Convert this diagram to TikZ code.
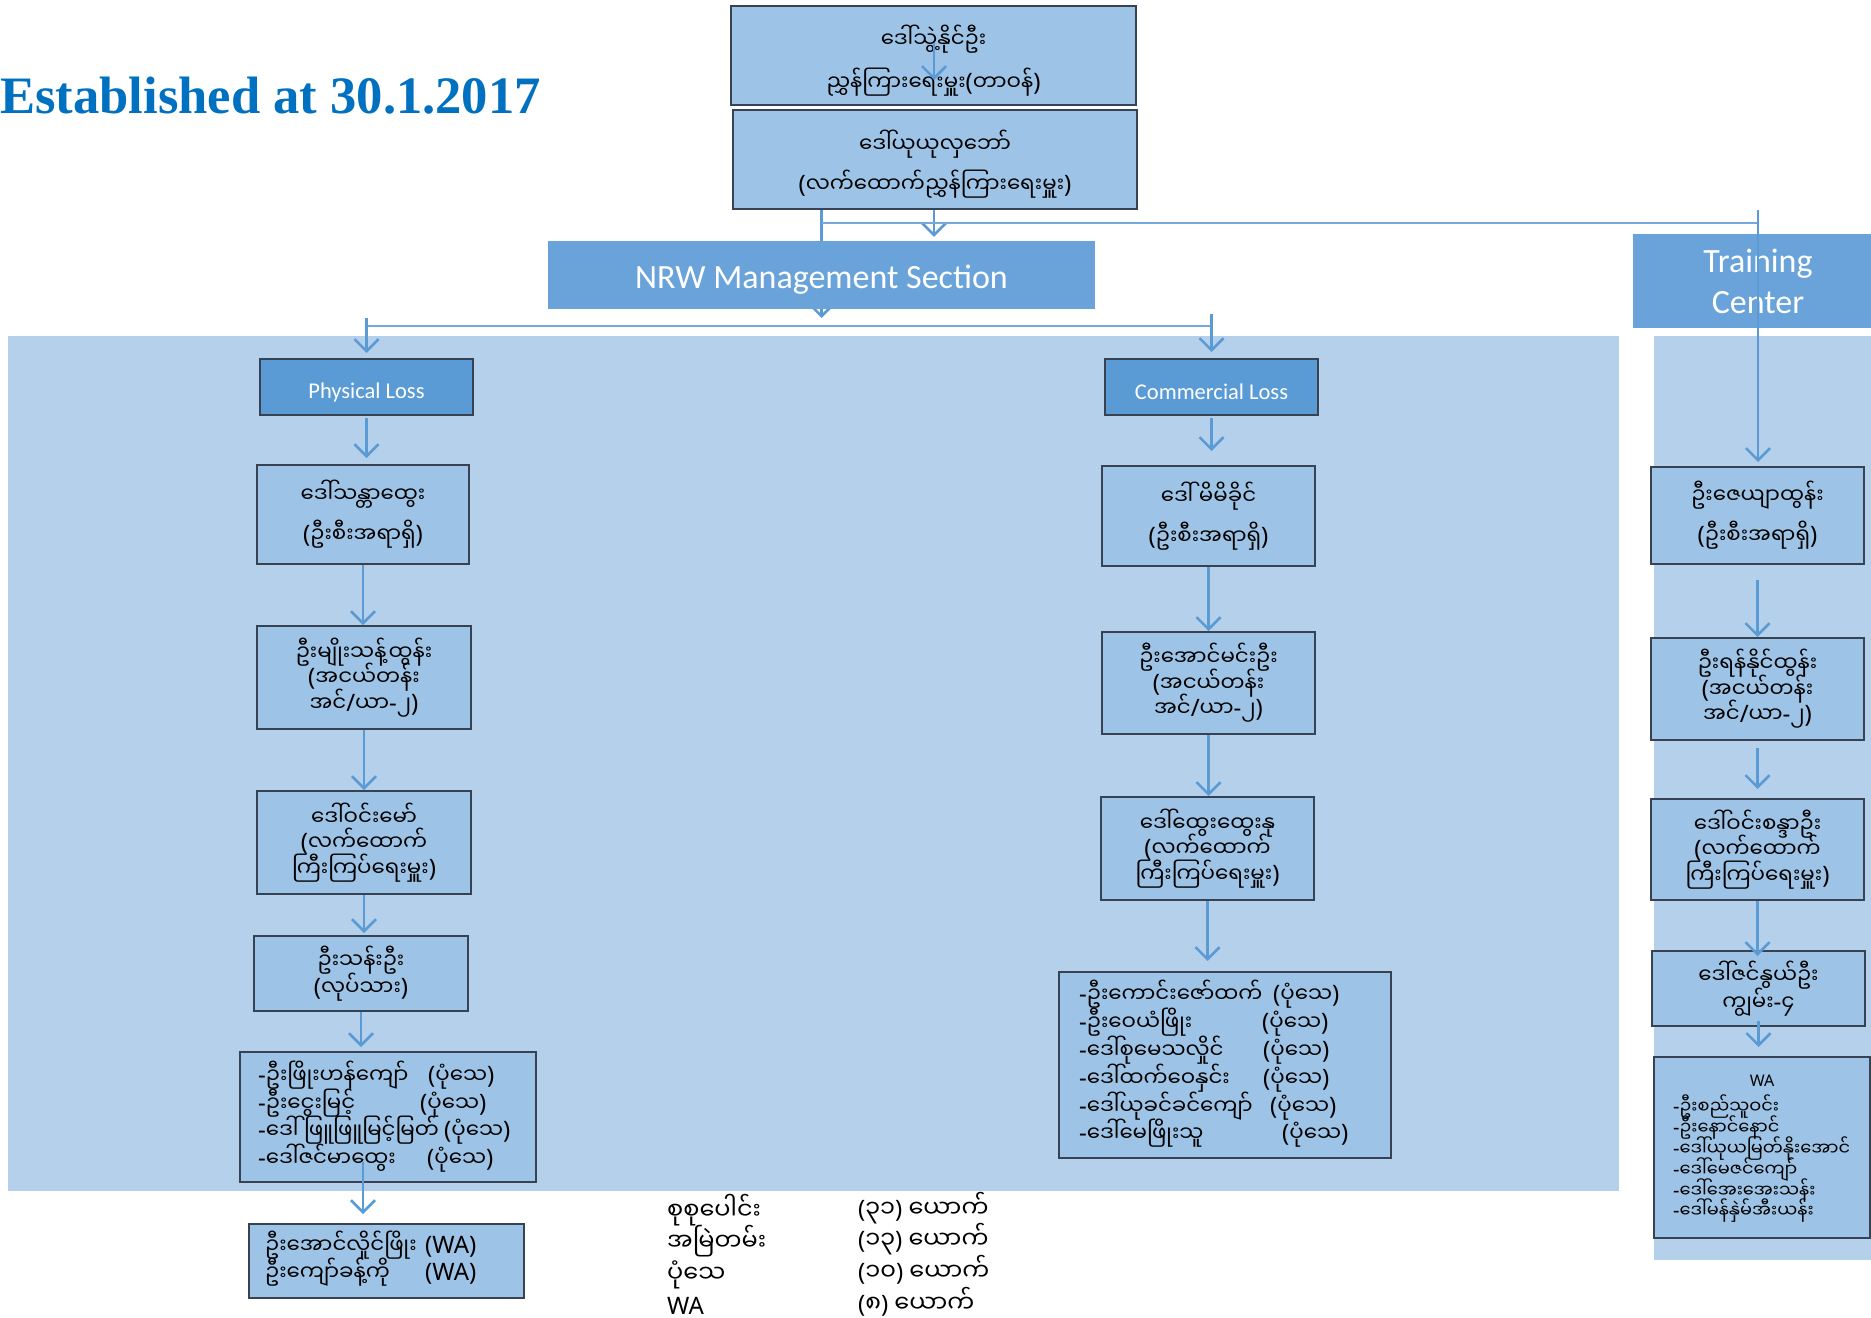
\documentclass[tikz,border=0pt]{standalone}
\usepackage{fontspec}
\setmainfont{Noto Sans}
\newfontfamily\myfont[Script=Myanmar,Scale=0.89]{Noto Sans Myanmar UI}
\newfontfamily\mybig[Script=Myanmar]{Noto Sans Myanmar UI}
\newfontfamily\calib{Carlito}
\newfontfamily\timesb{Liberation Serif}
\usetikzlibrary{arrows.meta,calc}
\newcommand\mm[1]{{\myfont #1}}
\newcommand\mb[1]{{\mybig #1}}
\newcommand\lowr[1]{\raisebox{-5pt}[\height][\depth]{#1}}
\definecolor{panel}{RGB}{181,208,235}
\definecolor{boxfill}{RGB}{157,195,230}
\definecolor{boxline}{RGB}{55,66,82}
\definecolor{head}{RGB}{106,163,217}
\definecolor{plbox}{RGB}{91,155,213}
\definecolor{cblue}{RGB}{91,155,213}
\definecolor{estab}{RGB}{0,112,192}
\tikzset{
 conn/.style={draw=cblue, line width=2.6pt, -{Straight Barb[length=12pt,width=24pt]}},
 hline/.style={draw=cblue!85, line width=1.6pt},
 namebox/.style={draw=boxline, line width=2pt, fill=boxfill, align=center, inner sep=0pt},
 loose/.style={font=\fontsize{24}{40}\selectfont},
 tight/.style={font=\fontsize{24}{25.5}\selectfont},
 headbox/.style={fill=head, text=white, align=center, inner sep=0pt, font=\calib\fontsize{34}{41}\selectfont},
 lossbox/.style={draw=boxline, line width=2pt, fill=plbox, text=white, inner sep=0pt, font=\calib\fontsize{22.5}{27}\selectfont, minimum width=213pt, minimum height=56pt},
 listtxt/.style={anchor=west, align=left, inner sep=0pt},
}
\begin{document}
\begin{tikzpicture}[x=1pt,y=-1pt]
\lineskiplimit=-100pt
\useasboundingbox (0,0) rectangle (1871,1317);
\fill[white] (0,0) rectangle (1871,1317);
% panels
\fill[panel] (8,336) rectangle (1619,1191);
\fill[panel] (1654,336) rectangle (1885,1260);
% title
\node[anchor=base west, inner sep=0pt, text=estab, font=\timesb\bfseries\fontsize{52.6}{60}\selectfont] (est) at (0,113) {Established at 30.1.2017};
% top boxes
\node[namebox, font=\fontsize{24}{43}\selectfont, minimum width=405pt, minimum height=99pt] (T1) at (933.5,55.5) {\lowr{\mm{ဒေါ်သွဲ့နိုင်ဦး}}\\\lowr{\mm{ညွှန်ကြားရေးမှူး}(\mm{တာဝန်})}};
\node[namebox, loose, minimum width=404pt, minimum height=99pt] (T2) at (935,159.5) {\lowr{\mm{ဒေါ်ယုယုလှဘော်}}\\\lowr{(\mm{လက်ထောက်ညွှန်ကြားရေးမှူး})}};
% hub line behind NRW
\coordinate (hub) at (821.5,318);
\draw[conn] (T2.south -| hub) -- (hub);
\node[headbox, minimum width=547pt, minimum height=68pt] (NRW) at (821.5,275) {\lowr{NRW Management Section}};
\node[headbox, minimum width=250pt, minimum height=94pt] (TC) at (1758,281) {Training\\Center};
% loss headers
\node[lossbox] (PL) at (366.5,387) {\lowr{Physical Loss}};
\node[lossbox] (CL) at (1211.5,387) {\lowr{Commercial Loss}};
% left column
\node[namebox, loose, minimum width=212pt, minimum height=99pt] (L1) at (363,514.5) {\mm{ဒေါ်သန္တာထွေး}\\(\mm{ဦးစီးအရာရှိ})};
\node[namebox, tight, minimum width=214pt, minimum height=103pt] (L2) at (364,677.5) {\mm{ဦးမျိုးသန့်ထွန်း}\\(\mm{အငယ်တန်း}\\\mm{အင်}/\mm{ယာ}-\mm{၂})};
\node[namebox, tight, minimum width=214pt, minimum height=103pt] (L3) at (364,842.5) {\mm{ဒေါ်ဝင်းမော်}\\(\mm{လက်ထောက်}\\\mm{ကြီးကြပ်ရေးမှူး})};
\node[namebox, font=\fontsize{24}{27}\selectfont, minimum width=214pt, minimum height=75pt] (L4) at (361,973.5) {\mm{ဦးသန်းဦး}\\(\mm{လုပ်သား})};
\node[namebox, minimum width=296pt, minimum height=130pt] (L5) at (388,1117) {};
\node[listtxt, font=\fontsize{24}{27.7}\selectfont] (L5t) at (258,1116.5) {\rlap{-\mm{ဦးဖြိုးဟန်ကျော်}}\hspace{170pt}(\mm{ပုံသေ})\\\rlap{-\mm{ဦးငွေးမြင့်}}\hspace{162pt}(\mm{ပုံသေ})\\\rlap{-\mm{ဒေါ် ဖြူဖြူမြင့်မြတ်}}\hspace{186pt}(\mm{ပုံသေ})\\\rlap{-\mm{ဒေါ်ဇင်မာထွေး}}\hspace{169pt}(\mm{ပုံသေ})};
\node[namebox, minimum width=275pt, minimum height=74pt] (L6) at (386.5,1261) {};
\node[listtxt, font=\fontsize{24}{27}\selectfont] (L6t) at (265,1258.5) {\rlap{\mm{ဦးအောင်လှိုင်ဖြိုး}}\hspace{160pt}(WA)\\\rlap{\mm{ဦးကျော်ခန့်ကို}}\hspace{160pt}(WA)};
% middle column
\node[namebox, loose, minimum width=213pt, minimum height=100pt] (C1) at (1208.5,516) {\mm{ဒေါ် မိမိခိုင်}\\(\mm{ဦးစီးအရာရှိ})};
\node[namebox, tight, minimum width=213pt, minimum height=102pt] (C2) at (1208.5,683) {\mm{ဦးအောင်မင်းဦး}\\(\mm{အငယ်တန်း}\\\mm{အင်}/\mm{ယာ}-\mm{၂})};
\node[namebox, tight, minimum width=213pt, minimum height=103pt] (C3) at (1207.5,848.5) {\mm{ဒေါ်ထွေးထွေးနု}\\(\mm{လက်ထောက်}\\\mm{ကြီးကြပ်ရေးမှူး})};
\node[namebox, minimum width=332pt, minimum height=186pt] (C4) at (1225,1065) {};
\node[listtxt, font=\fontsize{24}{27.8}\selectfont] (C4t) at (1079,1064) {\rlap{-\mm{ဦးကောင်းဇော်ထက်}}\hspace{194pt}(\mm{ပုံသေ})\\\rlap{-\mm{ဦးဝေယံဖြိုး}}\hspace{183pt}(\mm{ပုံသေ})\\\rlap{-\mm{ဒေါ်စုမေသလှိုင်}}\hspace{184pt}(\mm{ပုံသေ})\\\rlap{-\mm{ဒေါ်ထက်ဝေနှင်း}}\hspace{184pt}(\mm{ပုံသေ})\\\rlap{-\mm{ဒေါ်ယုခင်ခင်ကျော်}}\hspace{191pt}(\mm{ပုံသေ})\\\rlap{-\mm{ဒေါ်မေဖြိုးသူ}}\hspace{203pt}(\mm{ပုံသေ})};
% right column
\node[namebox, loose, minimum width=213pt, minimum height=97pt] (R1) at (1757.5,515.5) {\mm{ဦးဇေယျာထွန်း}\\(\mm{ဦးစီးအရာရှိ})};
\node[namebox, tight, minimum width=213pt, minimum height=102pt] (R2) at (1757.5,689) {\mm{ဦးရန်နိုင်ထွန်း}\\(\mm{အငယ်တန်း}\\\mm{အင်}/\mm{ယာ}-\mm{၂})};
\node[namebox, tight, minimum width=213pt, minimum height=101pt] (R3) at (1757.5,849.5) {\mm{ဒေါ်ဝင်းစန္ဒာဦး}\\(\mm{လက်ထောက်}\\\mm{ကြီးကြပ်ရေးမှူး})};
\node[namebox, font=\fontsize{24}{27}\selectfont, minimum width=213pt, minimum height=75pt] (R4) at (1758.5,988.5) {\mm{ဒေါ်ဇင်နွယ်ဦး}\\\mm{ကျွမ်း}-\mm{၄}};
\node[namebox, minimum width=216pt, minimum height=181pt] (R5) at (1762,1147.5) {};
\node[inner sep=0pt, font=\fontsize{16}{20}\selectfont] (R5h) at (1762,1081) {WA};
\node[listtxt, font=\fontsize{20}{20.8}\selectfont] (R5t) at (1673,1159) {-\mm{ဦးစည်သူဝင်း}\\-\mm{ဦးနောင်နောင်}\\-\mm{ဒေါ်ယုယမြတ်နိုးအောင်}\\-\mm{ဒေါ်မေဇင်ကျော်}\\-\mm{ဒေါ်အေးအေးသန်း}\\-\mm{ဒေါ်မန်နှဲမ်အီးယန်း}};
% summary
\node[listtxt, font=\fontsize{24}{31.7}\selectfont] (S1) at (667,1254) {\mb{စုစုပေါင်း}\\\mb{အမြဲတမ်း}\\\mb{ပုံသေ}\\WA};
\node[listtxt, font=\fontsize{24}{31.7}\selectfont] (S2) at (858,1254) {(\mb{၃၁}) \mb{ယောက်}\\(\mb{၁၃}) \mb{ယောက်}\\(\mb{၁၀}) \mb{ယောက်}\\(\mb{၈}) \mb{ယောက်}};
% connectors
\coordinate (t1a) at (934,43);
\coordinate (t1b) at (934,80);
\draw[conn] (t1a) -- (t1b);
\draw[conn, shorten >=4pt] (T2.south -| t1a) -- (NRW.north -| t1a);
\coordinate (h1) at (821.5,223);
\coordinate (h2) at (1758,223);
\coordinate (tc) at (1758,210);
\draw[hline] (h1) -- (h2);
\draw[conn, shorten >=4pt] (tc) -- (tc |- R1.north);
\coordinate (hl) at (0,326);
\draw[hline] (PL.north |- hl) -- (CL.north |- hl);
\draw[conn, shorten >=5pt] (PL.north |- hub) -- (PL.north);
\draw[conn, shorten >=6pt] (CL.north |- hub) ++(0,-4) -- (CL.north);
% left
\draw[conn, shorten <=2pt, shorten >=6pt] (PL.south) -- (PL.south |- L1.north);
\draw[conn] (L1.south) -- (L1.south |- L2.north);
\draw[conn] (L2.south) -- (L2.south |- L3.north);
\draw[conn, shorten >=2pt] (L3.south) -- (L3.south |- L4.north);
\draw[conn, shorten >=4pt] (L4.south) -- (L4.south |- L5.north);
\coordinate (l5s) at (363,1162);
\draw[conn, shorten >=9pt] (l5s) -- (l5s |- L6.north);
% middle
\draw[conn, shorten <=2pt, shorten >=14pt] (CL.south) -- (CL.south |- C1.north);
\draw[conn] (C1.south) -- (C1.south |- C2.north);
\draw[conn] (C2.south) -- (C2.south |- C3.north);
\draw[conn, shorten >=10pt] (C3.south) -- (C3.south |- C4.north);
% right
\draw[conn, shorten <=15pt] (R1.south) -- (R1.south |- R2.north);
\draw[conn, shorten <=7pt, shorten >=9pt] (R2.south) -- (R2.south |- R3.north);
\draw[conn, shorten >=-6pt] (R3.south) -- (R3.south |- R4.north);
\draw[conn, shorten <=-6pt, shorten >=9pt] (R4.south) -- (R4.south |- R5.north);
\end{tikzpicture}
\end{document}
